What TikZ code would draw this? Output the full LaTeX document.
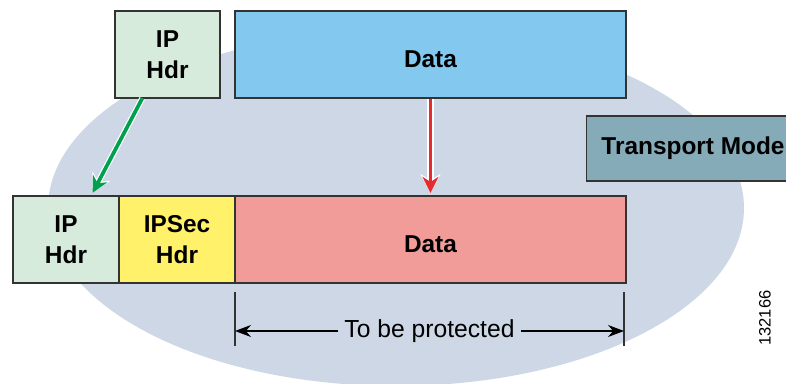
\documentclass[tikz,border=0pt]{standalone}
\usepackage{fontspec}
\setmainfont{Liberation Sans}
\usetikzlibrary{arrows.meta}
\definecolor{hdrgreen}{HTML}{D7EBDD}
\definecolor{datablue}{HTML}{83C8EE}
\definecolor{ipsecyellow}{HTML}{FFF26A}
\definecolor{datapink}{HTML}{F29C9A}
\definecolor{modeteal}{HTML}{86ABB8}
\definecolor{cloud}{HTML}{CDD7E6}
\definecolor{arrowgreen}{HTML}{00A04E}
\definecolor{arrowred}{HTML}{E62A2E}
\begin{document}
\begin{tikzpicture}[x=0.75pt,y=-0.75pt,
  field/.style={draw=black!80,line width=0.8pt,minimum height=65.25pt,inner sep=0pt,
    font=\fontsize{18.3}{23}\selectfont\bfseries,align=center},
  lowtext/.style={text height=19pt,text depth=0pt},
  move/.style={line width=2.8pt,-{Stealth[length=12pt,width=12pt]},
    preaction={draw=white,line width=4.6pt,-{Stealth[length=14pt,width=15pt]}}},
  dimtick/.style={draw=black!80,line width=0.8pt}]
\clip (0,0) rectangle (786,384);
%%Hintergrund
\fill[cloud] (396,208) ellipse [x radius=348,y radius=178];
%%Oben
\node[field,fill=hdrgreen,minimum width=78.75pt] (iptop) at (167.5,54.5) {IP\\Hdr};
\node[field,lowtext,fill=datablue,minimum width=293.25pt] (datatop) at (430.5,54.5) {Data};
%%Unten
\node[field,fill=hdrgreen,minimum width=79.5pt] (ipbot) at (66,239.5) {IP\\Hdr};
\node[field,fill=ipsecyellow,minimum width=87pt] (ipsec) at (177,239.5) {IPSec\\Hdr};
\node[field,lowtext,fill=datapink,minimum width=293.25pt] (databot) at (430.5,239.5) {Data};
%%Modus
\node[field,fill=modeteal,minimum width=159.75pt,minimum height=48.75pt] (mode) at (693,148.5) {Transport Mode};
%%Pfeile
\draw[move,arrowgreen] ([xshift=-19pt]iptop.south) -- ([xshift=20pt,yshift=2pt]ipbot.north);
\draw[move,arrowred] (datatop.south) -- ([yshift=2pt]databot.north);
%%Bemassung
\coordinate (lt) at (235,292);
\coordinate (lb) at (235,346);
\coordinate (rt) at (624,292);
\coordinate (rb) at (624,346);
\draw[dimtick] (lt) -- (lb);
\draw[dimtick] (rt) -- (rb);
\draw[line width=0.8pt,{Stealth[length=12pt,width=9pt]}-{Stealth[length=12pt,width=9pt]}]
  ([yshift=11.25pt]lb) -- node[fill=cloud,inner xsep=5pt,font=\fontsize{18.5}{20}\selectfont] (prot) {To be protected} ([yshift=11.25pt]rb);
%%Nummer
\node[rotate=90,font=\fontsize{12.4}{14}\selectfont] (num) at (765,318) {132166};
\end{tikzpicture}
\end{document}
